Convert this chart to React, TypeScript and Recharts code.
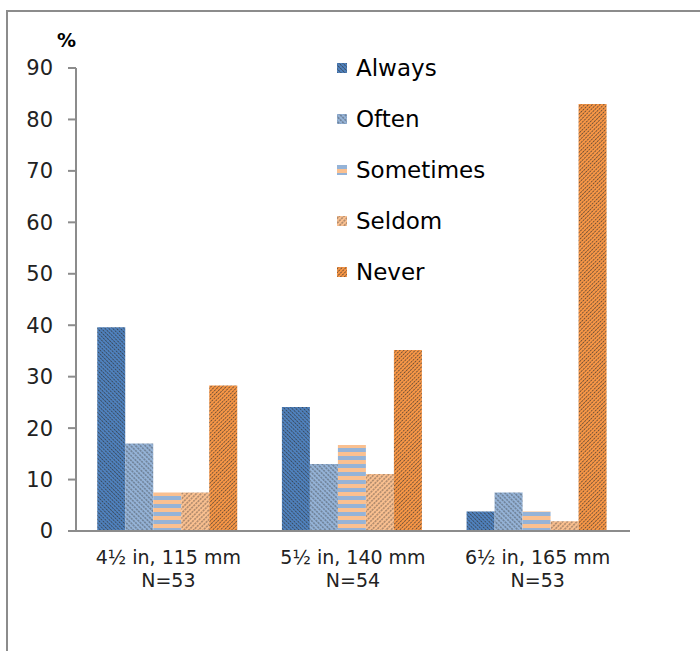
import { BarChart, Bar, XAxis, YAxis, Legend } from "recharts";

// Survey answers (% of respondents) per size
const categories = ["4½ in, 115 mm", "5½ in, 140 mm", "6½ in, 165 mm"];
const sampleSizes = ["N=53", "N=54", "N=53"];
const always = [39.6, 24.1, 3.8];
const often = [17.0, 13.0, 7.5];
const sometimes = [7.5, 16.7, 3.8];
const seldom = [7.5, 11.1, 1.9];
const never = [28.3, 35.2, 83.0];
const yTicks = [0, 10, 20, 30, 40, 50, 60, 70, 80, 90];

const data = categories.map((category, i) => ({
  category,
  Always: always[i],
  Often: often[i],
  Sometimes: sometimes[i],
  Seldom: seldom[i],
  Never: never[i],
}));

const SERIES = [
  { key: "Always", fill: "url(#pAlways)" },
  { key: "Often", fill: "url(#pOften)" },
  { key: "Sometimes", fill: "url(#pSometimes)" },
  { key: "Seldom", fill: "url(#pSeldom)" },
  { key: "Never", fill: "url(#pNever)" },
];

const FONT = "'DejaVu Sans', sans-serif";
const AXIS = "#8c8c8c";

// hatch: base colour + dashed dark diagonal lines
function Hatch({ id, base, size, angle }: { id: string; base: string; size: number; angle: number }) {
  return (
    <pattern id={id} width={size} height={3} patternUnits="userSpaceOnUse" patternTransform={`rotate(${angle})`}>
      <rect width={size} height={3} fill={base} />
      <line x1={size / 2} y1={0} x2={size / 2} y2={2.2} stroke="#2e2e2e" strokeWidth={0.85} strokeOpacity={0.75} />
    </pattern>
  );
}

function CategoryTick({ x, y, payload, index }: any) {
  return (
    <text x={x} y={y} textAnchor="middle" fontFamily={FONT} fontSize={19} fill="#222">
      <tspan x={x} dy={33}>{payload.value}</tspan>
      <tspan x={x} dy={23}>{sampleSizes[index]}</tspan>
    </text>
  );
}

function renderLegend() {
  return (
    <div style={{ fontFamily: FONT, fontSize: 23, color: "#000" }}>
      {SERIES.map(s => (
        <div key={s.key} style={{ height: 51.2, display: "flex", alignItems: "center" }}>
          <svg width={10} height={10} style={{ marginRight: 9 }}>
            <rect width={10} height={10} fill={s.fill} />
          </svg>
          <span>{s.key}</span>
        </div>
      ))}
    </div>
  );
}

export default function App() {
  return (
    <div style={{ position: "absolute", left: 0, top: 0, width: 700, height: 651, background: "#fff" }}>
      {/* outer frame (top and left edges) */}
      <div style={{ position: "absolute", left: 6, top: 10, width: 694, height: 2, background: AXIS }} />
      <div style={{ position: "absolute", left: 6, top: 10, width: 2, height: 641, background: AXIS }} />
      <div style={{ position: "absolute", left: 57, top: 29, fontFamily: FONT, fontWeight: "bold", fontSize: 19, color: "#000" }}>%</div>

      <BarChart
        width={700}
        height={651}
        data={data}
        margin={{ top: 68, right: 70, bottom: 0, left: 0 }}
        barCategoryGap="11.5%"
        barGap={0}
      >
        <defs>
          <Hatch id="pAlways" base="#4f81bd" size={2.7} angle={-45} />
          <Hatch id="pOften" base="#95b3d7" size={3.4} angle={-45} />
          <pattern id="pSometimes" width={8} height={8} patternUnits="userSpaceOnUse">
            <rect width={8} height={4} fill="#95b3d7" />
            <rect y={4} width={8} height={4} fill="#fac090" />
          </pattern>
          <Hatch id="pSeldom" base="#fac090" size={3.4} angle={45} />
          <Hatch id="pNever" base="#f79646" size={2.7} angle={45} />
        </defs>
        <XAxis
          dataKey="category"
          height={120}
          axisLine={{ stroke: AXIS, strokeWidth: 2 }}
          tickLine={false}
          tickSize={0}
          tickMargin={0}
          interval={0}
          tick={<CategoryTick />}
        />
        <YAxis
          width={76}
          domain={[0, 90]}
          ticks={yTicks}
          interval={0}
          axisLine={{ stroke: AXIS, strokeWidth: 2 }}
          tickLine={{ stroke: AXIS, strokeWidth: 2 }}
          tickSize={8}
          tickMargin={15}
          tick={{ fontFamily: FONT, fontSize: 21, fill: "#222" }}
        />
        <Legend
          layout="vertical"
          align="center"
          verticalAlign="middle"
          content={renderLegend}
          wrapperStyle={{ left: 337, top: 42, width: 220 }}
        />
        {SERIES.map(s => (
          <Bar key={s.key} dataKey={s.key} fill={s.fill} isAnimationActive={false} />
        ))}
      </BarChart>
    </div>
  );
}
